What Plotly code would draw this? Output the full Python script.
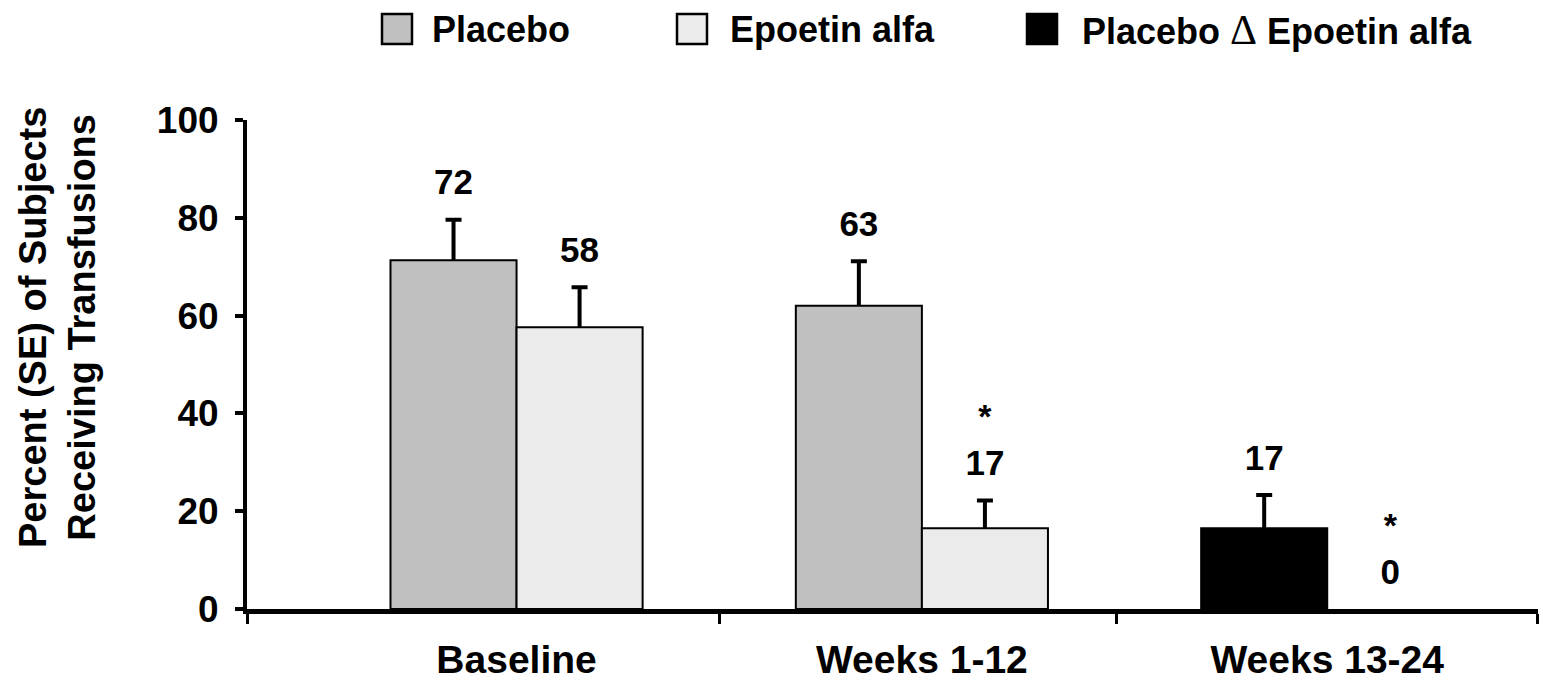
import plotly.graph_objects as go

# ---------------- data ----------------
categories = ["Baseline", "Weeks 1-12", "Weeks 13-24"]
series_names = ["Placebo", "Epoetin alfa", "Placebo \u0394 Epoetin alfa"]

placebo_pct = [71.3, 62.0, None]
placebo_se = [8.3, 9.1, None]
placebo_lbl = ["72", "63", ""]

epoetin_pct = [57.6, 16.5, 0]
epoetin_se = [8.2, 5.7, None]
epoetin_lbl = ["58", "17", "0"]
epoetin_sig = [False, True, True]

switch_pct = [None, None, 16.5]
switch_se = [None, None, 6.8]
switch_lbl = ["", "", "17"]

y_ticks = [0, 20, 40, 60, 80, 100]

# ---------------- style ----------------
FONT = "Liberation Sans, Arial, Helvetica, sans-serif"
C_PLACEBO = "#C0C0C0"
C_EPOETIN = "#EBEBEB"
C_SWITCH = "#000000"
BW = 0.311          # bar width (x units)
LBL_PAD = 7         # label distance above error bar (y units)
STAR_PAD = 9.5      # asterisk distance above label (y units)
HIDDEN_MINUS = 3    # lower error arm hidden inside the bar (y units)
X_RANGE = [-0.665, 2.52]
X_BOUNDS = [-0.663, 0.5, 1.48, 2.518]

W, H = 1543, 685
ML, MR, MT, MB = 247, 5, 120, 76
PW, PH = W - ML - MR, H - MT - MB

xi = list(range(len(categories)))


def px_to_paper_x(px):
    return (px - ML) / PW


def px_to_paper_y(py):
    return (H - MB - py) / PH


fig = go.Figure()


def add_err(vals, ses, offset):
    # transparent bar carrying only the upward error bar; drawn first so the
    # visible bar (drawn after) hides the lower cap
    ys = [v if s else None for v, s in zip(vals, ses)]
    fig.add_trace(go.Bar(
        x=xi, y=ys, width=BW, offset=offset,
        marker=dict(color="rgba(0,0,0,0)", line=dict(width=0)),
        error_y=dict(type="data", symmetric=False,
                     array=[s if s else 0 for s in ses],
                     arrayminus=[HIDDEN_MINUS if s else 0 for s in ses],
                     color="black", thickness=4, width=8),
        showlegend=False, hoverinfo="skip",
    ))


def add_bar(name, vals, color, offset):
    fig.add_trace(go.Bar(
        name=name, x=xi, y=vals, width=BW, offset=offset,
        marker=dict(color=color,
                    line=dict(color="black",
                              width=[2 if (v or 0) > 0 else 0 for v in vals])),
        showlegend=False, hoverinfo="skip",
    ))


add_err(placebo_pct, placebo_se, -BW)
add_err(epoetin_pct, epoetin_se, 0)
add_err(switch_pct, switch_se, -BW)
add_bar(series_names[0], placebo_pct, C_PLACEBO, -BW)
add_bar(series_names[1], epoetin_pct, C_EPOETIN, 0)
add_bar(series_names[2], switch_pct, C_SWITCH, -BW)


def add_labels(vals, ses, lbls, shift, sig=None):
    xs, ys, ts, sx, sy = [], [], [], [], []
    for i, (v, s, t) in enumerate(zip(vals, ses, lbls)):
        if v is None or t == "":
            continue
        top = v + (s or 0) + LBL_PAD
        xs.append(i + shift)
        ys.append(top)
        ts.append(t)
        if sig is not None and sig[i]:
            sx.append(i + shift)
            sy.append(top + STAR_PAD)
    fig.add_trace(go.Scatter(
        x=xs, y=ys, text=ts, mode="text", textposition="middle center",
        textfont=dict(family=FONT, size=35, color="black", weight="bold"),
        showlegend=False, hoverinfo="skip", cliponaxis=False))
    if sx:
        fig.add_trace(go.Scatter(
            x=sx, y=sy, text=["*"] * len(sx), mode="text",
            textposition="middle center",
            textfont=dict(family=FONT, size=34, color="black", weight="bold"),
            showlegend=False, hoverinfo="skip", cliponaxis=False))


add_labels(placebo_pct, placebo_se, placebo_lbl, -BW / 2)
add_labels(epoetin_pct, epoetin_se, epoetin_lbl, BW / 2, epoetin_sig)
add_labels(switch_pct, switch_se, switch_lbl, -BW / 2)

# ---------------- custom legend (large square swatches) ----------------
legend_sq_x = [382, 677, 1027]
legend_txt_x = [430, 728, 1080]
legend_colors = [C_PLACEBO, C_EPOETIN, C_SWITCH]
DELTA = ("<span style=\"font-family:'Liberation Serif', 'DejaVu Serif', serif;"
         "font-weight:normal;font-size:42px\">\u0394</span>")
legend_text = ["Placebo", "Epoetin alfa", "Placebo " + DELTA + " Epoetin alfa"]
shapes = []
annotations = []
for sx, tx, col, txt in zip(legend_sq_x, legend_txt_x, legend_colors, legend_text):
    shapes.append(dict(
        type="rect", xref="paper", yref="paper",
        x0=px_to_paper_x(sx), x1=px_to_paper_x(sx + 30),
        y0=px_to_paper_y(44), y1=px_to_paper_y(14),
        fillcolor=col, line=dict(color="black", width=2.5)))
    annotations.append(dict(
        text=txt, xref="paper", yref="paper",
        x=px_to_paper_x(tx), y=px_to_paper_y(30),
        xanchor="left", yanchor="middle", showarrow=False,
        font=dict(family=FONT, size=36, color="black", weight="bold")))

# y-axis title (two lines, rotated)
annotations.append(dict(
    text="Percent (SE) of Subjects<br>Receiving Transfusions",
    xref="paper", yref="paper",
    x=px_to_paper_x(57), y=px_to_paper_y(328),
    xanchor="center", yanchor="middle", textangle=-90, showarrow=False,
    align="center",
    font=dict(family=FONT, size=38, color="black", weight="bold")))

fig.update_layout(
    width=W, height=H,
    margin=dict(l=ML, r=MR, t=MT, b=MB, autoexpand=False),
    paper_bgcolor="white", plot_bgcolor="white",
    barmode="overlay",
    shapes=shapes, annotations=annotations,
    font=dict(family=FONT, color="black"),
    xaxis=dict(
        range=X_RANGE, tickmode="array", tickvals=xi, ticktext=categories,
        ticks="", showgrid=False, zeroline=False,
        showline=True, linecolor="black", linewidth=5,
        tickfont=dict(family=FONT, size=39, color="black", weight="bold"),
        ticklabelstandoff=12,
        minor=dict(tickmode="array", tickvals=X_BOUNDS, ticks="outside",
                   ticklen=10, tickwidth=3, tickcolor="black", showgrid=False),
    ),
    yaxis=dict(
        range=[0, 100], tickmode="array", tickvals=y_ticks,
        ticks="outside", ticklen=8, tickwidth=4, tickcolor="black",
        showgrid=False, zeroline=False,
        showline=True, linecolor="black", linewidth=4,
        tickfont=dict(family=FONT, size=37, color="black", weight="bold"),
        ticklabelstandoff=9,
    ),
)

fig.write_html("out.html")
